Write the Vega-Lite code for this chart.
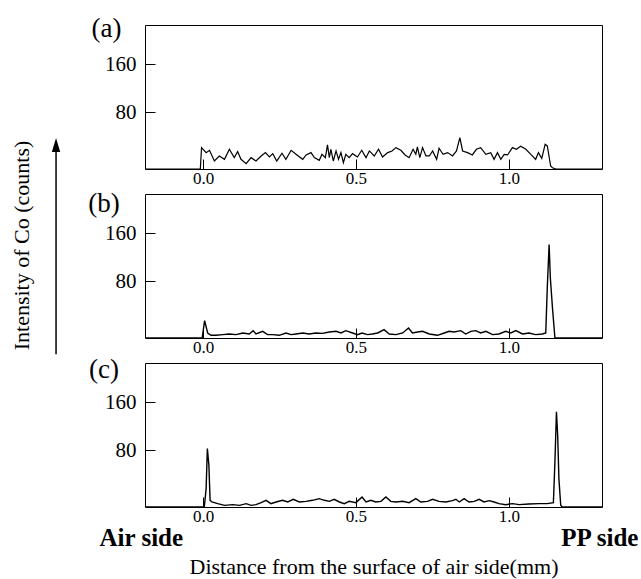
{
  "$schema": "https://vega.github.io/schema/vega-lite/v6.json",
  "padding": {"top": 14, "left": 9, "right": 5, "bottom": 5},
  "background": "white",
  "bounds": "flush",
  "spacing": 25,
  "datasets": {
    "a": [
      {"x": -0.19, "y": -15}, {"x": -0.009, "y": -15}, {"x": -0.005, "y": 20.8}, {"x": 0.010, "y": 12.4}, {"x": 0.021, "y": 16.3}, {"x": 0.037, "y": -1.6}, {"x": 0.053, "y": 6.8}, {"x": 0.070, "y": 1.2}, {"x": 0.086, "y": 18.0}, {"x": 0.102, "y": 4.0}, {"x": 0.113, "y": 14.1}, {"x": 0.124, "y": 1.2}, {"x": 0.141, "y": -6.1}, {"x": 0.157, "y": 4.0}, {"x": 0.173, "y": -1.6}, {"x": 0.190, "y": 6.8}, {"x": 0.204, "y": 12.4}, {"x": 0.217, "y": 5.1}, {"x": 0.228, "y": 10.7}, {"x": 0.241, "y": -1.6}, {"x": 0.258, "y": 11.3}, {"x": 0.271, "y": 1.2}, {"x": 0.288, "y": 16.3}, {"x": 0.304, "y": 9.6}, {"x": 0.326, "y": 1.2}, {"x": 0.337, "y": 8.5}, {"x": 0.353, "y": 12.4}, {"x": 0.364, "y": 4.0}, {"x": 0.380, "y": -0.5}, {"x": 0.389, "y": 9.6}, {"x": 0.400, "y": 4.0}, {"x": 0.407, "y": 25.3}, {"x": 0.413, "y": 4.0}, {"x": 0.418, "y": 18.0}, {"x": 0.426, "y": -1.6}, {"x": 0.435, "y": 15.2}, {"x": 0.443, "y": 1.2}, {"x": 0.451, "y": 12.4}, {"x": 0.459, "y": -4.4}, {"x": 0.467, "y": 9.6}, {"x": 0.478, "y": 4.0}, {"x": 0.489, "y": 10.7}, {"x": 0.505, "y": 5.1}, {"x": 0.519, "y": 16.3}, {"x": 0.533, "y": 4.0}, {"x": 0.544, "y": 15.2}, {"x": 0.560, "y": 6.8}, {"x": 0.574, "y": 18.0}, {"x": 0.587, "y": 5.1}, {"x": 0.604, "y": 12.4}, {"x": 0.618, "y": 15.2}, {"x": 0.631, "y": 20.8}, {"x": 0.647, "y": 16.3}, {"x": 0.661, "y": 8.5}, {"x": 0.674, "y": 4.0}, {"x": 0.687, "y": 18.0}, {"x": 0.696, "y": 9.6}, {"x": 0.701, "y": 21.9}, {"x": 0.709, "y": 4.0}, {"x": 0.718, "y": 20.8}, {"x": 0.729, "y": 6.8}, {"x": 0.740, "y": 6.8}, {"x": 0.751, "y": 15.2}, {"x": 0.764, "y": 1.2}, {"x": 0.772, "y": 19.7}, {"x": 0.785, "y": 9.6}, {"x": 0.800, "y": 12.4}, {"x": 0.816, "y": 6.8}, {"x": 0.829, "y": 15.2}, {"x": 0.840, "y": 37.6}, {"x": 0.849, "y": 15.2}, {"x": 0.865, "y": 12.4}, {"x": 0.881, "y": 8.5}, {"x": 0.894, "y": 18.0}, {"x": 0.908, "y": 20.8}, {"x": 0.925, "y": 9.6}, {"x": 0.941, "y": 12.4}, {"x": 0.952, "y": 1.2}, {"x": 0.963, "y": 12.4}, {"x": 0.974, "y": 1.2}, {"x": 0.985, "y": 9.6}, {"x": 0.996, "y": 8.5}, {"x": 1.012, "y": 20.8}, {"x": 1.025, "y": 18.0}, {"x": 1.039, "y": 23.0}, {"x": 1.056, "y": 18.0}, {"x": 1.072, "y": 9.6}, {"x": 1.088, "y": 1.2}, {"x": 1.097, "y": 12.4}, {"x": 1.108, "y": 2.9}, {"x": 1.119, "y": 26.4}, {"x": 1.126, "y": 23.6}, {"x": 1.137, "y": -10}, {"x": 1.143, "y": -12.8}, {"x": 1.154, "y": -15}, {"x": 1.305, "y": -15}
    ],
    "b": [
      {"x": -0.19, "y": -15}, {"x": -0.003, "y": -15}, {"x": 0.005, "y": 14.1}, {"x": 0.015, "y": -6.6}, {"x": 0.026, "y": -10.5}, {"x": 0.042, "y": -10.5}, {"x": 0.064, "y": -9.4}, {"x": 0.086, "y": -8.3}, {"x": 0.108, "y": -9.4}, {"x": 0.130, "y": -6.6}, {"x": 0.151, "y": -8.3}, {"x": 0.164, "y": -2.7}, {"x": 0.173, "y": -8.3}, {"x": 0.195, "y": -3.8}, {"x": 0.211, "y": -9.4}, {"x": 0.228, "y": -9.4}, {"x": 0.249, "y": -10.5}, {"x": 0.271, "y": -6.6}, {"x": 0.288, "y": -9.4}, {"x": 0.304, "y": -8.3}, {"x": 0.326, "y": -6.6}, {"x": 0.347, "y": -8.3}, {"x": 0.369, "y": -6.6}, {"x": 0.391, "y": -7.2}, {"x": 0.413, "y": -4.9}, {"x": 0.435, "y": -3.8}, {"x": 0.451, "y": -6.6}, {"x": 0.467, "y": -2.7}, {"x": 0.489, "y": -6.6}, {"x": 0.505, "y": -9.4}, {"x": 0.520, "y": -6.6}, {"x": 0.538, "y": -9.4}, {"x": 0.554, "y": -8.3}, {"x": 0.571, "y": -6.6}, {"x": 0.592, "y": -1.0}, {"x": 0.609, "y": -8.3}, {"x": 0.631, "y": -9.4}, {"x": 0.653, "y": -6.6}, {"x": 0.672, "y": 1.8}, {"x": 0.685, "y": -6.6}, {"x": 0.702, "y": -4.9}, {"x": 0.718, "y": -3.8}, {"x": 0.740, "y": -8.3}, {"x": 0.767, "y": -10.5}, {"x": 0.789, "y": -6.6}, {"x": 0.805, "y": -3.8}, {"x": 0.821, "y": -4.9}, {"x": 0.843, "y": -2.7}, {"x": 0.859, "y": -8.3}, {"x": 0.876, "y": -3.8}, {"x": 0.892, "y": -2.7}, {"x": 0.908, "y": -6.6}, {"x": 0.925, "y": -3.8}, {"x": 0.947, "y": -9.4}, {"x": 0.968, "y": -8.3}, {"x": 0.990, "y": -3.8}, {"x": 1.007, "y": -6.6}, {"x": 1.023, "y": -2.7}, {"x": 1.045, "y": -8.3}, {"x": 1.066, "y": -6.6}, {"x": 1.088, "y": -9.4}, {"x": 1.110, "y": -8.3}, {"x": 1.121, "y": -6.6}, {"x": 1.126, "y": 68.9}, {"x": 1.132, "y": 141.6}, {"x": 1.136, "y": 85.7}, {"x": 1.143, "y": 35.3}, {"x": 1.151, "y": -15}, {"x": 1.305, "y": -15}
    ],
    "c": [
      {"x": -0.19, "y": -15}, {"x": 0.004, "y": -15}, {"x": 0.010, "y": 15.8}, {"x": 0.014, "y": 82.9}, {"x": 0.019, "y": 54.9}, {"x": 0.023, "y": -3.8}, {"x": 0.029, "y": -6.6}, {"x": 0.048, "y": -9.4}, {"x": 0.070, "y": -12.2}, {"x": 0.097, "y": -11.1}, {"x": 0.119, "y": -12.2}, {"x": 0.141, "y": -9.4}, {"x": 0.157, "y": -12.2}, {"x": 0.173, "y": -11.1}, {"x": 0.190, "y": -7.7}, {"x": 0.206, "y": -3.8}, {"x": 0.222, "y": -9.4}, {"x": 0.239, "y": -6.6}, {"x": 0.260, "y": -3.8}, {"x": 0.277, "y": -6.6}, {"x": 0.295, "y": -2.1}, {"x": 0.315, "y": -6.6}, {"x": 0.337, "y": -5.5}, {"x": 0.358, "y": -3.8}, {"x": 0.380, "y": -1.0}, {"x": 0.397, "y": -3.8}, {"x": 0.413, "y": -5.5}, {"x": 0.429, "y": -2.1}, {"x": 0.446, "y": -6.6}, {"x": 0.462, "y": -9.4}, {"x": 0.478, "y": -5.5}, {"x": 0.500, "y": -7.7}, {"x": 0.520, "y": 1.8}, {"x": 0.533, "y": -6.6}, {"x": 0.549, "y": -3.8}, {"x": 0.565, "y": -6.6}, {"x": 0.582, "y": -5.5}, {"x": 0.598, "y": 1.8}, {"x": 0.614, "y": -5.5}, {"x": 0.631, "y": -6.6}, {"x": 0.653, "y": -5.5}, {"x": 0.674, "y": -7.7}, {"x": 0.696, "y": -1.0}, {"x": 0.712, "y": -6.6}, {"x": 0.734, "y": -5.5}, {"x": 0.751, "y": -2.1}, {"x": 0.772, "y": -5.5}, {"x": 0.794, "y": -6.6}, {"x": 0.816, "y": -4.4}, {"x": 0.827, "y": -2.1}, {"x": 0.838, "y": -6.6}, {"x": 0.854, "y": -1.0}, {"x": 0.870, "y": -6.6}, {"x": 0.887, "y": -5.5}, {"x": 0.903, "y": -2.1}, {"x": 0.919, "y": -6.6}, {"x": 0.936, "y": -4.4}, {"x": 0.952, "y": -6.6}, {"x": 0.968, "y": -9.4}, {"x": 0.990, "y": -11.1}, {"x": 1.012, "y": -9.4}, {"x": 1.034, "y": -11.1}, {"x": 1.066, "y": -10.0}, {"x": 1.099, "y": -9.4}, {"x": 1.126, "y": -9.4}, {"x": 1.146, "y": -7.7}, {"x": 1.151, "y": 60.5}, {"x": 1.156, "y": 144.4}, {"x": 1.160, "y": 105.2}, {"x": 1.164, "y": 32.5}, {"x": 1.170, "y": -12.2}, {"x": 1.175, "y": -15}, {"x": 1.305, "y": -15}
    ]
  },
  "vconcat": [
    {
      "width": 457,
      "height": 144,
      "layer": [
        {
          "data": {"name": "a"},
          "mark": {"type": "line", "color": "black", "strokeWidth": 1.2, "clip": true},
          "encoding": {
            "x": {"field": "x", "type": "quantitative", "scale": {"domain": [-0.19, 1.305], "nice": false, "zero": false},
                  "axis": {"values": [0, 0.5, 1], "format": ".1f", "title": null, "tickSize": -10, "labelFontSize": 17, "labelPadding": 11}},
            "y": {"field": "y", "type": "quantitative", "scale": {"domain": [-15, 226], "nice": false, "zero": false},
                  "axis": {"values": [80, 160], "title": null, "tickSize": -10, "labelFontSize": 21, "labelPadding": 19}}
          }
        },
        {
          "data": {"values": [{"x": -0.316, "y": 219.3, "t": "(a)"}]},
          "mark": {"type": "text", "font": "Liberation Serif", "fontSize": 27, "baseline": "middle", "align": "center", "color": "black", "clip": false},
          "encoding": {
            "x": {"field": "x", "type": "quantitative"},
            "y": {"field": "y", "type": "quantitative"},
            "text": {"field": "t"}
          }
        }
      ]
    },
    {
      "width": 457,
      "height": 144,
      "layer": [
        {
          "data": {"name": "b"},
          "mark": {"type": "line", "color": "black", "strokeWidth": 1.4, "clip": true},
          "encoding": {
            "x": {"field": "x", "type": "quantitative", "scale": {"domain": [-0.19, 1.305], "nice": false, "zero": false},
                  "axis": {"values": [0, 0.5, 1], "format": ".1f", "title": null, "tickSize": -10, "labelFontSize": 17, "labelPadding": 11}},
            "y": {"field": "y", "type": "quantitative", "scale": {"domain": [-15, 226], "nice": false, "zero": false},
                  "axis": {"values": [80, 160], "tickSize": -10, "labelFontSize": 21, "labelPadding": 19, "title": "Intensity of Co (counts)", "titleX": -124, "titleY": 51, "titleAngle": 270, "titleAlign": "center", "titleBaseline": "middle", "titleFontSize": 22}}
          }
        },
        {
          "data": {"values": [{"x": -0.324, "y": 210.1, "t": "(b)"}]},
          "mark": {"type": "text", "font": "Liberation Serif", "fontSize": 27, "baseline": "middle", "align": "center", "color": "black", "clip": false},
          "encoding": {
            "x": {"field": "x", "type": "quantitative"},
            "y": {"field": "y", "type": "quantitative"},
            "text": {"field": "t"}
          }
        },
        {
          "data": {"values": [{"x": -0.481, "y": -42, "y2": 297}]},
          "mark": {"type": "rule", "color": "black", "strokeWidth": 1.5, "clip": false},
          "encoding": {
            "x": {"field": "x", "type": "quantitative"},
            "y": {"field": "y", "type": "quantitative"},
            "y2": {"field": "y2"}
          }
        },
        {
          "data": {"values": [{"x": -0.481, "y": 308}]},
          "mark": {"type": "point", "shape": "M0,-1L0.6,1L-0.6,1Z", "filled": true, "color": "black", "opacity": 1, "size": 196, "clip": false},
          "encoding": {
            "x": {"field": "x", "type": "quantitative"},
            "y": {"field": "y", "type": "quantitative"}
          }
        }
      ]
    },
    {
      "width": 457,
      "height": 144,
      "layer": [
        {
          "data": {"name": "c"},
          "mark": {"type": "line", "color": "black", "strokeWidth": 1.4, "clip": true},
          "encoding": {
            "x": {"field": "x", "type": "quantitative", "scale": {"domain": [-0.19, 1.305], "nice": false, "zero": false},
                  "axis": {"values": [0, 0.5, 1], "format": ".1f", "tickSize": -10, "labelFontSize": 17, "labelPadding": 11, "title": "Distance from the surface of air side(mm)", "titleY": 66, "titleBaseline": "alphabetic", "titleFontSize": 22}},
            "y": {"field": "y", "type": "quantitative", "scale": {"domain": [-15, 226], "nice": false, "zero": false},
                  "axis": {"values": [80, 160], "title": null, "tickSize": -10, "labelFontSize": 21, "labelPadding": 19}}
          }
        },
        {
          "data": {"values": [{"x": -0.324, "y": 214.3, "t": "(c)"}]},
          "mark": {"type": "text", "font": "Liberation Serif", "fontSize": 27, "baseline": "middle", "align": "center", "color": "black", "clip": false},
          "encoding": {
            "x": {"field": "x", "type": "quantitative"},
            "y": {"field": "y", "type": "quantitative"},
            "text": {"field": "t"}
          }
        },
        {
          "data": {"values": [{"x": -0.202, "y": -80, "t": "Air side"}, {"x": 1.298, "y": -80, "t": "PP side"}]},
          "mark": {"type": "text", "font": "Liberation Serif", "fontSize": 25, "fontWeight": "bold", "baseline": "alphabetic", "align": "center", "color": "black", "clip": false},
          "encoding": {
            "x": {"field": "x", "type": "quantitative"},
            "y": {"field": "y", "type": "quantitative"},
            "text": {"field": "t"}
          }
        }
      ]
    }
  ],
  "config": {
    "font": "Liberation Serif",
    "view": {"stroke": "black", "strokeWidth": 1},
    "axis": {
      "domain": false, "grid": false,
      "ticks": true, "tickColor": "black", "tickWidth": 1,
      "labelFont": "Liberation Serif", "labelColor": "black",
      "titleFont": "Liberation Serif", "titleColor": "black", "titleFontWeight": "normal"
    }
  }
}
